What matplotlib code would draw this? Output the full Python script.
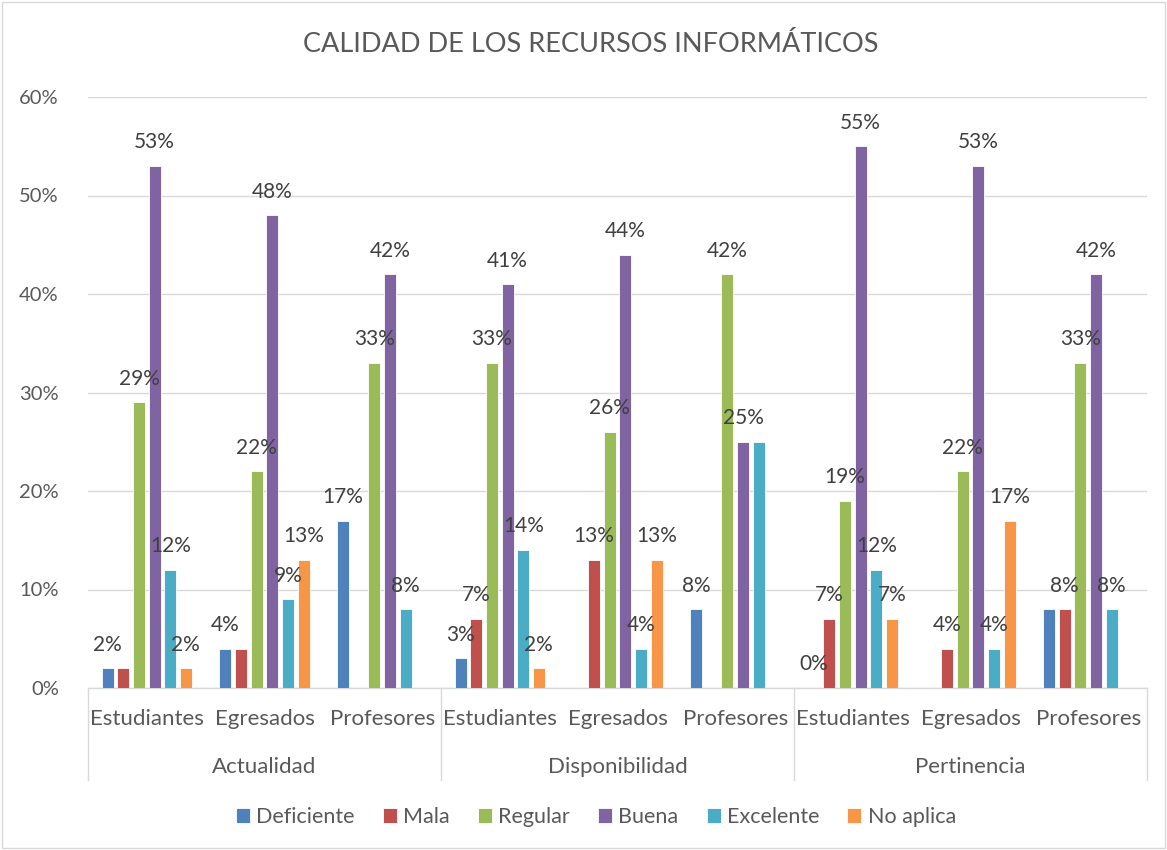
import numpy as np
import matplotlib
matplotlib.use("Agg")
import matplotlib.pyplot as plt
from matplotlib.patches import Rectangle
from matplotlib.ticker import PercentFormatter

plt.rcParams['font.family'] = ['Lato', 'DejaVu Sans']

# ---- data (percent) ----
categories = ["Actualidad", "Disponibilidad", "Pertinencia"]
groups = ["Estudiantes", "Egresados", "Profesores"] * 3
series_names = ["Deficiente", "Mala", "Regular", "Buena", "Excelente", "No aplica"]
deficiente = [2, 4, 17, 3, None, 8, 0, None, 8]
mala = [2, 4, None, 7, 13, None, 7, 4, 8]
regular = [29, 22, 33, 33, 26, 42, 19, 22, 33]
buena = [53, 48, 42, 41, 44, 25, 55, 53, 42]
excelente = [12, 9, 8, 14, 4, 25, 12, 4, 8]
no_aplica = [2, 13, None, 2, 13, None, 7, 17, None]
colors = ["#4F81BD", "#C0504D", "#9BBB59", "#8064A2", "#4BACC6", "#F79646"]
# (series, group) pairs whose data label is not printed
hidden_labels = {(1, 0), (1, 1), (4, 5), (0, 8)}

series = [deficiente, mala, regular, buena, excelente, no_aplica]

fig = plt.figure(figsize=(11.67, 8.5), dpi=100)
ax = fig.add_axes([88 / 1167, 1 - 688 / 850, (1147 - 88) / 1167, (688 - 97) / 850])

step = 0.1326
width = 0.102
centers = np.arange(len(groups)) + 0.5
label_color = "#404040"
for si, (name, vals, col) in enumerate(zip(series_names, series, colors)):
    offs = (si - 2.5) * step
    xs = [c + offs for c, v in zip(centers, vals) if v is not None]
    hs = [v for v in vals if v is not None]
    ax.bar(xs, hs, width=width, color=col, edgecolor="white", linewidth=0.6,
           label=name, zorder=3)
    for gi, v in enumerate(vals):
        if v is None or (si, gi) in hidden_labels:
            continue
        ax.annotate(f"{v}%", (centers[gi] + offs, v), xytext=(0, 17),
                    textcoords="offset points", ha="center", va="center",
                    fontsize=15, color=label_color, zorder=4)

ax.set_xlim(0, 9)
ax.set_ylim(0, 60)
ax.set_yticks(range(0, 61, 10))
ax.yaxis.set_major_formatter(PercentFormatter(decimals=0))
ax.tick_params(axis="y", length=0, labelsize=14.5, labelcolor="#595959", pad=21)
ax.set_xticks([])
ax.grid(axis="y", color="#D9D9D9", linewidth=1, zorder=0)
for s in ["left", "right", "top"]:
    ax.spines[s].set_visible(False)
ax.spines["bottom"].set_color("#D9D9D9")
ax.spines["bottom"].set_linewidth(1)

# two-level category axis
trans = ax.get_xaxis_transform()
for x in [0, 3, 6, 9]:
    ax.plot([x, x], [0, -0.155], transform=trans, color="#D9D9D9",
            linewidth=1, clip_on=False)
for c, g in zip(centers, groups):
    ax.text(c, -0.052, g, transform=trans, ha="center", va="center",
            fontsize=16, color="#595959")
for i, cat in enumerate(categories):
    ax.text(3 * i + 1.5, -0.134, cat, transform=trans, ha="center",
            va="center", fontsize=16, color="#595959")

fig.text(591 / 1167, 1 - 45 / 850, "CALIDAD DE LOS RECURSOS INFORMÁTICOS",
         ha="center", va="center", fontsize=19.5, color="#595959")

leg = fig.legend(loc="center", bbox_to_anchor=(596 / 1167, 1 - 817 / 850),
                 ncol=6, frameon=False, fontsize=15.5, handlelength=0.65,
                 handleheight=0.65, handletextpad=0.3, columnspacing=1.3)
for t in leg.get_texts():
    t.set_color("#595959")

fig.patches.append(Rectangle((0.002, 0.002), 0.996, 0.996, transform=fig.transFigure,
                             fill=False, edgecolor="#D9D9D9", linewidth=1))

fig.savefig("out.png", dpi=100, facecolor="white")
